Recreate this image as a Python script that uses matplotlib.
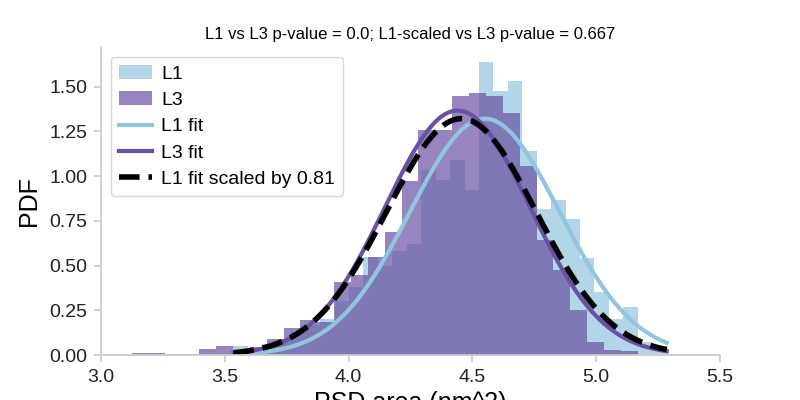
import numpy as np
import matplotlib.pyplot as plt

plt.rcParams['font.family'] = ['Liberation Sans', 'DejaVu Sans']

# histogram bins (start, width, 30 bins each)
l1_start, l1_width = 3.535, 0.05832
l3_start, l3_width = 3.124, 0.06813

# density per bin
l1_heights = [0.05, 0.035, 0.06, 0.09, 0.13, 0.17, 0.20, 0.30, 0.38, 0.55,
              0.50, 0.58, 0.62, 1.035, 0.98, 1.09, 0.923, 1.637, 1.473, 1.529,
              1.143, 0.815, 0.867, 0.76, 0.54, 0.35, 0.20, 0.27, 0.07, 0.05]
l3_heights = [0.013, 0.013, 0.007, 0.007, 0.034, 0.05, 0.027, 0.047, 0.089, 0.149,
              0.196, 0.185, 0.41, 0.447, 0.55, 0.69, 0.975, 1.255, 1.255, 1.447,
              1.465, 1.449, 1.352, 1.058, 0.643, 0.475, 0.25, 0.07, 0.03, 0.02]

# normal fits (mean, sd)
l1_fit = (4.55, 0.302)
l3_fit = (4.44, 0.292)
scaled_fit = (4.455, 0.302)
scale_factor = 0.81
fit_range = (3.535, 5.285)

p_l1_l3 = 0.0
p_scaled_l3 = 0.667

L1_COLOR = '#92c5de'
L3_COLOR = '#6a51a3'
GREY = '#cccccc'


def norm_pdf(x, mu, sd):
    return np.exp(-0.5 * ((x - mu) / sd) ** 2) / (sd * np.sqrt(2 * np.pi))


l1_edges = l1_start + l1_width * np.arange(len(l1_heights) + 1)
l3_edges = l3_start + l3_width * np.arange(len(l3_heights) + 1)
xs = np.linspace(fit_range[0], fit_range[1], 200)

fig = plt.figure(figsize=(8, 4), dpi=100)
ax = fig.add_axes([0.12625, 0.1125, 0.77375, 0.7688])

h1 = ax.hist(l1_edges[:-1], bins=l1_edges, weights=l1_heights, histtype='stepfilled',
             color=L1_COLOR, alpha=0.7, lw=0, label='L1')[2][0]
h3 = ax.hist(l3_edges[:-1], bins=l3_edges, weights=l3_heights, histtype='stepfilled',
             color=L3_COLOR, alpha=0.7, lw=0, label='L3')[2][0]
f1, = ax.plot(xs, norm_pdf(xs, *l1_fit), color=L1_COLOR, lw=3, label='L1 fit')
f3, = ax.plot(xs, norm_pdf(xs, *l3_fit), color=L3_COLOR, lw=3, label='L3 fit')
fs, = ax.plot(xs, norm_pdf(xs, *scaled_fit), color='black', lw=4, ls='--',
              label=f'L1 fit scaled by {scale_factor}')

ax.set_xlim(3.0, 5.5)
ax.set_ylim(0, max(l1_heights) * 1.05)
ax.set_xticks([3.0, 3.5, 4.0, 4.5, 5.0, 5.5])
ax.set_yticks([0, 0.25, 0.5, 0.75, 1.0, 1.25, 1.5])
ax.yaxis.set_major_formatter(plt.FormatStrFormatter('%.2f'))

for s in ['top', 'right']:
    ax.spines[s].set_visible(False)
for s in ['left', 'bottom']:
    ax.spines[s].set_color(GREY)
    ax.spines[s].set_linewidth(1.25)
ax.tick_params(direction='out', length=5, width=1.25, color=GREY,
               labelsize=14, labelcolor='#222222', pad=5)

ax.set_ylabel('PDF', fontsize=18, labelpad=6)
ax.set_xlabel('PSD area (nm^2)', fontsize=18)
ax.set_title(f'L1 vs L3 p-value = {p_l1_l3}; L1-scaled vs L3 p-value = {p_scaled_l3}',
             fontsize=12)

ax.legend(handles=[h1, h3, f1, f3, fs], loc='upper left', fontsize=14,
          handlelength=1.7, handletextpad=0.5, labelspacing=0.45, edgecolor=GREY)

fig.savefig('out.png', dpi=100)
